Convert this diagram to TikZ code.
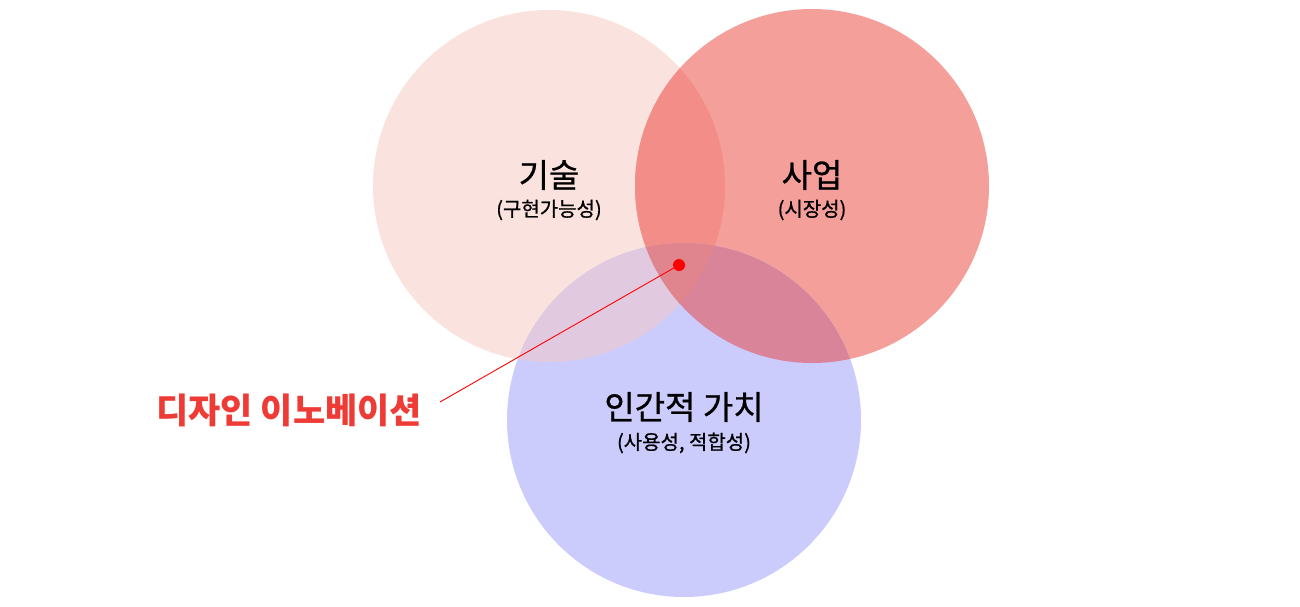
\documentclass[tikz,border=0pt]{standalone}
\usepackage{fontspec}
\newfontfamily\kr{Noto Sans CJK KR}
\newfontfamily\krmid{Noto Sans CJK KR}[FakeBold=0.8]
\usepackage{xcolor}
\usepackage{tikz}
\definecolor{techpink}{HTML}{FAE3DE}
\definecolor{bizred}{HTML}{F59F9B}
\definecolor{humanblue}{HTML}{CCCCFC}
\definecolor{techbiz}{HTML}{F28D87}
\definecolor{techhuman}{HTML}{E1CADF}
\definecolor{bizhuman}{HTML}{D98499}
\definecolor{allthree}{HTML}{E0848D}
\definecolor{labelred}{HTML}{EE3B36}
\tikzset{
  bigtitle/.style={font=\krmid\fontsize{33}{36}\selectfont,text=black,inner sep=0pt},
  smalltitle/.style={font=\krmid\fontsize{20}{22}\selectfont,text=black,inner sep=0pt},
  innolabel/.style={font=\kr\bfseries\fontsize{35}{38}\selectfont,text=labelred,inner sep=0pt},
  pointer/.style={red,line width=0.9pt}
}
\newcommand{\techcircle}{(549,186) circle (176)}
\newcommand{\bizcircle}{(812,186) circle (177)}
\newcommand{\humancircle}{(684,420) circle (177)}

\begin{document}
\begin{tikzpicture}[x=1pt,y=-1pt]
    \useasboundingbox (0,0) rectangle (1300,606);
    \fill[white] (0,0) rectangle (1300,606);
    \fill[techpink] \techcircle;
    \fill[bizred] \bizcircle;
    \fill[humanblue] \humancircle;
    \begin{scope}
      \clip \techcircle;
      \fill[techbiz] \bizcircle;
      \fill[techhuman] \humancircle;
    \end{scope}
    \begin{scope}
      \clip \bizcircle;
      \fill[bizhuman] \humancircle;
    \end{scope}
    \begin{scope}
      \clip \techcircle;
      \clip \bizcircle;
      \fill[allthree] \humancircle;
    \end{scope}
    \node[bigtitle] (tech) at (549,175) {기술};
    \node[smalltitle] (techsub) at (549,210) {(구현가능성)};
    \node[bigtitle] (biz) at (812,175) {사업};
    \node[smalltitle] (bizsub) at (812,210) {(시장성)};
    \node[bigtitle] (human) at (684,407) {인간적 가치};
    \node[smalltitle] (humansub) at (684,443) {(사용성, 적합성)};
    \node[innolabel] (inno) at (289,410) {디자인 이노베이션};
    \node[circle,fill=red,inner sep=0pt,minimum size=12] (dot) at (679,265) {};
    \coordinate (tip) at (440,402);
    \draw[pointer] (dot.center) -- (tip);
\end{tikzpicture}
\end{document}
